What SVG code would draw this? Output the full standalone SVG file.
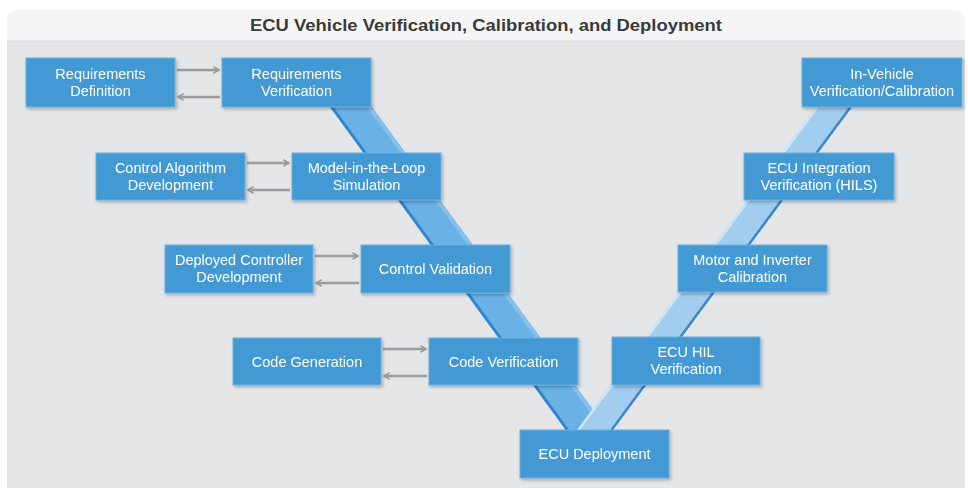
<svg xmlns="http://www.w3.org/2000/svg" width="968" height="488" viewBox="0 0 968 488">
  <style>
    .box rect { fill: #4399d4; stroke: #6cb1e2; stroke-width: 1; }
    .box text { fill: #ffffff; font-family: "Liberation Sans", Arial, sans-serif; font-size: 14.5px; text-anchor: middle; }
    .conn line { stroke: #9c9c9c; stroke-width: 2.5; marker-end: url(#head); }
    .title { fill: #3a3a3a; font-family: "Liberation Sans", Arial, sans-serif; font-size: 16px; font-weight: bold; text-anchor: middle; }
  </style>
  <defs>
    <marker id="head" viewBox="0 0 10 10" refX="8" refY="5" markerWidth="3.2" markerHeight="3.2" orient="auto" markerUnits="strokeWidth">
      <path d="M1,1 L8,5 L1,9" fill="none" stroke="#9c9c9c" stroke-width="2"/>
    </marker>
    <filter id="shadow" x="-10%" y="-20%" width="130%" height="160%">
      <feDropShadow dx="1.5" dy="2" stdDeviation="1.5" flood-color="#000" flood-opacity="0.25"/>
    </filter>
  </defs>

  <!-- page background and panel -->
  <rect width="968" height="488" fill="#ffffff"/>
  <rect x="7" y="10" width="958" height="490" rx="10" fill="#e4e5e6"/>
  <path d="M7,41 V20 A10,10 0 0 1 17,10 H955 A10,10 0 0 1 965,20 V41 Z" fill="#f5f5f5"/>
  <line x1="7" y1="41" x2="965" y2="41" stroke="#dadada" stroke-width="1"/>
  <text class="title" x="486" y="31" textLength="472" lengthAdjust="spacingAndGlyphs">ECU Vehicle Verification, Calibration, and Deployment</text>

  <!-- V-shaped process ribbon -->
  <g id="ribbon">
    <!-- descending arm -->
    <polygon points="324.9,100 366.9,100 607.8,430 565.8,430" fill="#6ab2e6"/>
    <polygon points="361.9,100 366.9,100 607.8,430 602.8,430" fill="#86c1ec"/>
    <polygon points="324.9,100 328.4,100 569.3,430 565.8,430" fill="#2f86cc"/>
    <!-- ascending arm -->
    <polygon points="821.2,100 857.2,100 613,430 577,430" fill="#a3cdee"/>
    <polygon points="821.2,100 824.2,100 580,430 577,430" fill="#cde5f7"/>
    <polygon points="854.2,100 857.2,100 613,430 610,430" fill="#3a86c6"/>
  </g>

  <!-- horizontal handoff arrows -->
  <g id="connectors" class="conn">
    <line x1="177" y1="70" x2="219" y2="70"/>
    <line x1="220" y1="97" x2="178" y2="97"/>
    <line x1="247" y1="163" x2="289" y2="163"/>
    <line x1="290" y1="190" x2="248" y2="190"/>
    <line x1="315" y1="256" x2="358" y2="256"/>
    <line x1="359" y1="283" x2="316" y2="283"/>
    <line x1="383" y1="349" x2="426" y2="349"/>
    <line x1="427" y1="376" x2="384" y2="376"/>
  </g>

  <g id="req-def" class="box" filter="url(#shadow)">
    <rect x="26" y="58" width="149" height="49"/>
    <text x="100.5" y="79">Requirements</text>
    <text x="100.5" y="96">Definition</text>
  </g>
  <g id="req-ver" class="box" filter="url(#shadow)">
    <rect x="222" y="58" width="149" height="49"/>
    <text x="296.5" y="79">Requirements</text>
    <text x="296.5" y="96">Verification</text>
  </g>
  <g id="ctrl-alg" class="box" filter="url(#shadow)">
    <rect x="96" y="153" width="149" height="47"/>
    <text x="170.5" y="173">Control Algorithm</text>
    <text x="170.5" y="190">Development</text>
  </g>
  <g id="mil-sim" class="box" filter="url(#shadow)">
    <rect x="292" y="153" width="149" height="47"/>
    <text x="366.5" y="173">Model-in-the-Loop</text>
    <text x="366.5" y="190">Simulation</text>
  </g>
  <g id="deployed-ctrl" class="box" filter="url(#shadow)">
    <rect x="165" y="245" width="148" height="48"/>
    <text x="239" y="265">Deployed Controller</text>
    <text x="239" y="282">Development</text>
  </g>
  <g id="ctrl-val" class="box" filter="url(#shadow)">
    <rect x="361" y="245" width="149" height="48"/>
    <text x="435.5" y="274">Control Validation</text>
  </g>
  <g id="code-gen" class="box" filter="url(#shadow)">
    <rect x="233" y="338" width="148" height="47"/>
    <text x="307" y="366.5">Code Generation</text>
  </g>
  <g id="code-ver" class="box" filter="url(#shadow)">
    <rect x="429" y="338" width="149" height="47"/>
    <text x="503.5" y="366.5">Code Verification</text>
  </g>
  <g id="ecu-deploy" class="box" filter="url(#shadow)">
    <rect x="520" y="430" width="149" height="48"/>
    <text x="594.5" y="459">ECU Deployment</text>
  </g>
  <g id="ecu-hil" class="box" filter="url(#shadow)">
    <rect x="612" y="337" width="148" height="48"/>
    <text x="686" y="357">ECU HIL</text>
    <text x="686" y="374">Verification</text>
  </g>
  <g id="motor-inv" class="box" filter="url(#shadow)">
    <rect x="678" y="245" width="149" height="47"/>
    <text x="752.5" y="265">Motor and Inverter</text>
    <text x="752.5" y="282">Calibration</text>
  </g>
  <g id="ecu-int" class="box" filter="url(#shadow)">
    <rect x="744" y="153" width="150" height="47"/>
    <text x="819" y="173">ECU Integration</text>
    <text x="819" y="190">Verification (HILS)</text>
  </g>
  <g id="in-vehicle" class="box" filter="url(#shadow)">
    <rect x="802" y="58" width="160" height="49"/>
    <text x="882" y="79">In-Vehicle</text>
    <text x="882" y="96">Verification/Calibration</text>
  </g>
</svg>
